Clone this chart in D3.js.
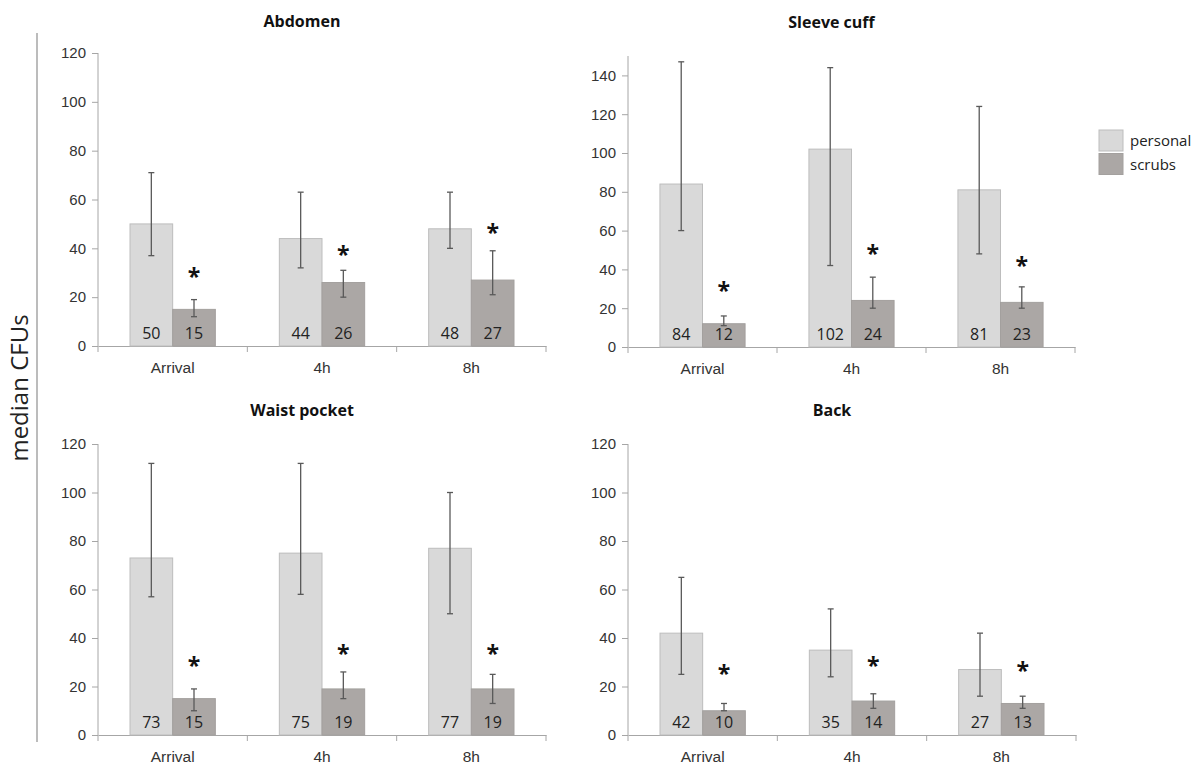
<!DOCTYPE html>
<html>
<head>
<meta charset="utf-8">
<script src="https://cdn.jsdelivr.net/npm/d3@7"></script>
<style>
  body { margin: 0; background: #fff; }
  svg { font-family: "Open Sans", "Noto Sans", sans-serif; }
  .tick text { fill: #333; }
</style>
</head>
<body>
<div id="chart"></div>
<script>
/* Median CFUs by site — personal clothing vs scrubs */

const categories = ['Arrival', '4h', '8h'];
const series     = ['personal', 'scrubs'];
const sites      = ['Abdomen', 'Sleeve cuff', 'Waist pocket', 'Back'];

// medians per site, per time point
const personalMedian = [[50, 44, 48], [84, 102, 81], [73, 75, 77], [42, 35, 27]];
const scrubsMedian   = [[15, 26, 27], [12, 24, 23], [15, 19, 19], [10, 14, 13]];

// error bar ranges (low / high)
const personalLow  = [[37, 32, 40], [60, 42, 48], [57, 58, 50], [25, 24, 16]];
const personalHigh = [[71, 63, 63], [147, 144, 124], [112, 112, 100], [65, 52, 42]];
const scrubsLow    = [[12, 20, 21], [11, 20, 20], [10, 15, 13], [10, 11, 11]];
const scrubsHigh   = [[19, 31, 39], [16, 36, 31], [19, 26, 25], [13, 17, 16]];

// level of the significance asterisk above each scrubs bar
const starLevel = [[30, 39, 48], [31, 50, 44], [30, 35, 35], [27, 30, 28]];

const yMax      = [120, 150, 120, 120];
const yTickMax  = [120, 140, 120, 120];
const yTickStep = 20;

const colors  = { personal: '#d9d9d9', scrubs: '#aba7a5' };
const strokes = { personal: '#bdbdbd', scrubs: '#a3a09e' };

// panel frames (axis origin, sizes) in page pixels
const panels = [
  { left: 98,  top: 53,  bottom: 346, width: 448, titleY: 21 },
  { left: 628, top: 56,  bottom: 347, width: 447, titleY: 22 },
  { left: 98,  top: 444, bottom: 735, width: 448, titleY: 410 },
  { left: 628, top: 444, bottom: 735, width: 448, titleY: 410 }
];

const W = 1199, H = 769;
const svg = d3.select('#chart').append('svg')
  .attr('width', W)
  .attr('height', H);

// shared y label + separator
svg.append('line')
  .attr('x1', 37).attr('x2', 37)
  .attr('y1', 33).attr('y2', 742)
  .attr('stroke', '#a6a6a6')
  .attr('stroke-width', 1.5);

svg.append('text')
  .attr('transform', 'translate(28,388) rotate(-90)')
  .attr('text-anchor', 'middle')
  .attr('font-size', 24)
  .attr('fill', '#222')
  .text('median CFUs');

sites.forEach((site, si) => {
  const p = panels[si];
  const g = svg.append('g').attr('transform', `translate(${p.left},0)`);

  const x = d3.scaleBand().domain(categories).range([0, p.width]);
  const bw = x.bandwidth();
  // Excel-style 150% gap width: bars take 2 of 3.5 slots
  const xs = d3.scaleBand().domain(series)
    .range([bw * 1.5 / 7, bw * 5.5 / 7]);

  const y = d3.scaleLinear()
    .domain([0, yMax[si]])
    .range([p.bottom, p.top]);

  // Y axis
  const yAxis = g.append('g')
    .call(d3.axisLeft(y)
      .tickValues(d3.range(0, yTickMax[si] + 1, yTickStep))
      .tickSize(6)
      .tickPadding(6));
  yAxis.select('.domain').remove();
  yAxis.selectAll('.tick line').attr('stroke', '#a6a6a6');
  yAxis.selectAll('.tick text').attr('font-size', 15);
  g.append('line')
    .attr('x1', 0).attr('x2', 0)
    .attr('y1', y(0)).attr('y2', y(yMax[si]))
    .attr('stroke', '#a6a6a6');

  // X axis: labels from the band scale, boundary ticks
  const xAxis = g.append('g')
    .attr('transform', `translate(0,${y(0)})`)
    .call(d3.axisBottom(x).tickSize(0).tickPadding(16));
  xAxis.select('.domain').attr('stroke', '#a6a6a6');
  xAxis.selectAll('.tick text').attr('font-size', 15.5);
  const bounds = categories.map(c => x(c)).concat([x.range()[1]]);
  g.selectAll('.xb')
    .data(bounds)
    .join('line')
    .attr('x1', d => d).attr('x2', d => d)
    .attr('y1', y(0)).attr('y2', y(0) + 6)
    .attr('stroke', '#a6a6a6');

  // rows of data for this panel
  const rows = [];
  categories.forEach((c, ci) => {
    rows.push({ cat: c, s: 'personal', v: personalMedian[si][ci], lo: personalLow[si][ci], hi: personalHigh[si][ci] });
    rows.push({ cat: c, s: 'scrubs',   v: scrubsMedian[si][ci],   lo: scrubsLow[si][ci],   hi: scrubsHigh[si][ci], star: starLevel[si][ci] });
  });

  const cx = d => x(d.cat) + xs(d.s) + xs.bandwidth() / 2;

  // Bars
  g.selectAll('.bar')
    .data(rows)
    .join('rect')
    .attr('x', d => x(d.cat) + xs(d.s))
    .attr('y', d => y(d.v))
    .attr('width', xs.bandwidth())
    .attr('height', d => y(0) - y(d.v))
    .attr('fill', d => colors[d.s])
    .attr('stroke', d => strokes[d.s])
    .attr('stroke-width', 1);

  // Error bars
  g.selectAll('.err')
    .data(rows)
    .join('line')
    .attr('x1', cx).attr('x2', cx)
    .attr('y1', d => y(d.lo)).attr('y2', d => y(d.hi))
    .attr('stroke', '#595959')
    .attr('stroke-width', 1.3);
  ['lo', 'hi'].forEach(k => {
    g.selectAll('.cap-' + k)
      .data(rows)
      .join('line')
      .attr('x1', d => cx(d) - 3).attr('x2', d => cx(d) + 3)
      .attr('y1', d => y(d[k])).attr('y2', d => y(d[k]))
      .attr('stroke', '#595959')
      .attr('stroke-width', 1.3);
  });

  // Value labels inside bars
  g.selectAll('.val')
    .data(rows)
    .join('text')
    .attr('x', cx)
    .attr('y', y(0) - 13)
    .attr('dy', '0.35em')
    .attr('text-anchor', 'middle')
    .attr('font-size', 16)
    .attr('fill', '#222')
    .text(d => d.v);

  // Asterisks
  g.selectAll('.star')
    .data(rows.filter(d => d.star != null))
    .join('text')
    .attr('x', cx)
    .attr('y', d => y(d.star) + 12)
    .attr('text-anchor', 'middle')
    .attr('font-size', 23)
    .attr('font-weight', 'bold')
    .attr('fill', '#111')
    .text('*');

  // Title
  svg.append('text')
    .attr('x', p.left + p.width / 2 - 20)
    .attr('y', p.titleY)
    .attr('dy', '0.35em')
    .attr('text-anchor', 'middle')
    .attr('font-size', 16)
    .attr('font-weight', 'bold')
    .attr('fill', '#111')
    .text(site);
});

// Legend
const legend = svg.append('g').attr('transform', 'translate(1099,130)');
series.forEach((s, i) => {
  legend.append('rect')
    .attr('x', 0).attr('y', i * 23.5)
    .attr('width', 24).attr('height', 21)
    .attr('fill', colors[s])
    .attr('stroke', strokes[s]);
  legend.append('text')
    .attr('x', 31).attr('y', i * 23.5 + 11)
    .attr('dy', '0.35em')
    .attr('font-size', 15)
    .attr('fill', '#222')
    .text(s);
});
</script>
</body>
</html>
